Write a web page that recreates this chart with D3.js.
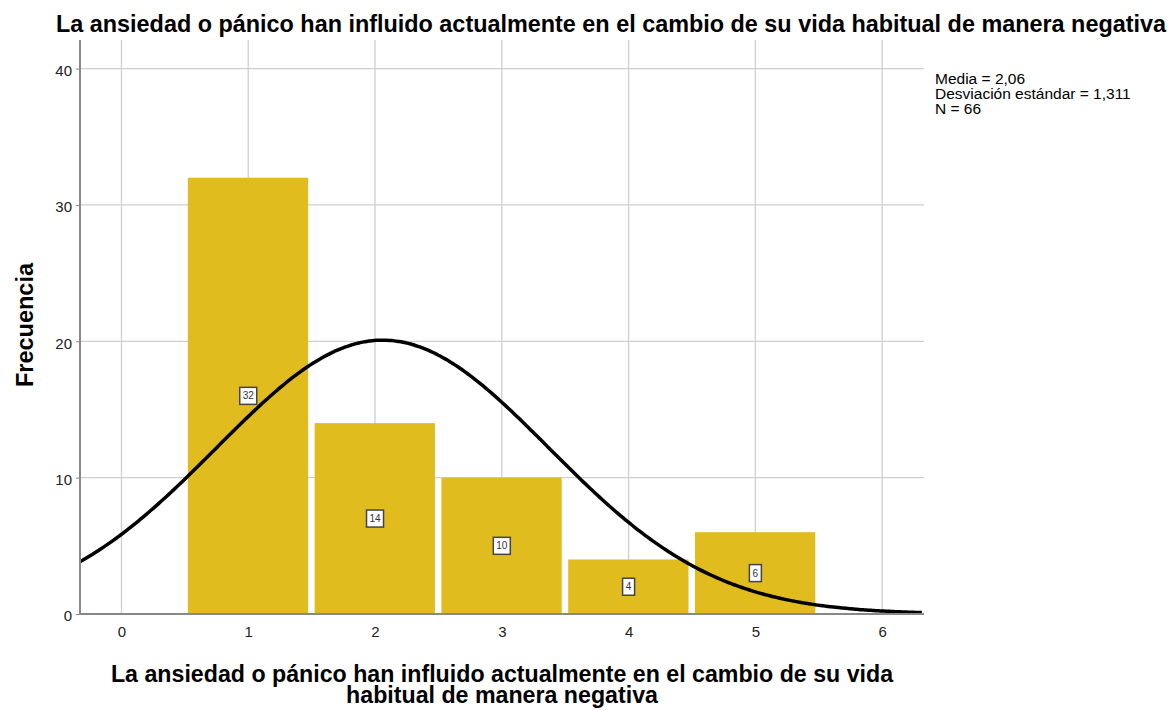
<!DOCTYPE html>
<html>
<head>
<meta charset="utf-8">
<script src="https://cdn.jsdelivr.net/npm/d3@7"></script>
<style>
  body { margin: 0; background: #fff; }
  text { font-family: 'Liberation Sans', Arial, sans-serif; }
</style>
</head>
<body>
<div id="chart"></div>
<script>
var categories = [1, 2, 3, 4, 5]
var counts = [32, 14, 10, 4, 6]
var xTicks = [0, 1, 2, 3, 4, 5, 6]
var yTicks = [0, 10, 20, 30, 40]
var mean = 2.06
var sd = 1.311
var n = 66
var statLines = ['Media = 2,06', 'Desviación estándar = 1,311', 'N = 66']
var title = 'La ansiedad o pánico han influido actualmente en el cambio de su vida habitual de manera negativa'
var xTitle = ['La ansiedad o pánico han influido actualmente en el cambio de su vida', 'habitual de manera negativa']

var width = 1171
var height = 710
var margin = { top: 40, left: 80, right: 247, bottom: 96 }

var svg = d3
  .select('#chart')
  .append('svg')
  .attr('width', width)
  .attr('height', height)

var xScale = d3
  .scaleLinear()
  .domain([-0.327, 6.33])
  .range([margin.left, width - margin.right])

var yScale = d3
  .scaleLinear()
  .domain([0, 42.1])
  .range([height - margin.bottom, margin.top])

var plotBottom = yScale(0)

// gridlines
svg
  .selectAll('.vgrid')
  .data(xTicks)
  .enter()
  .append('line')
  .attr('class', 'vgrid')
  .attr('x1', d => xScale(d))
  .attr('x2', d => xScale(d))
  .attr('y1', margin.top)
  .attr('y2', plotBottom)
  .attr('stroke', '#cfcfcf')
  .attr('stroke-width', 1.3)

svg
  .selectAll('.hgrid')
  .data(yTicks.slice(1))
  .enter()
  .append('line')
  .attr('class', 'hgrid')
  .attr('x1', margin.left)
  .attr('x2', width - margin.right)
  .attr('y1', d => yScale(d))
  .attr('y2', d => yScale(d))
  .attr('stroke', '#cfcfcf')
  .attr('stroke-width', 1.3)

// bars
var bars = categories.map((c, i) => ({ cat: c, count: counts[i] }))

svg
  .selectAll('.bar')
  .data(bars)
  .enter()
  .append('rect')
  .attr('class', 'bar')
  .attr('x', d => xScale(d.cat - 0.5) + 3)
  .attr('width', d => xScale(d.cat + 0.5) - xScale(d.cat - 0.5) - 6.5)
  .attr('y', d => yScale(d.count))
  .attr('height', d => plotBottom - yScale(d.count))
  .attr('fill', '#e1bc1f')

// normal curve from the stats
var density = x => (n / (sd * Math.sqrt(2 * Math.PI))) * Math.exp(-0.5 * Math.pow((x - mean) / sd, 2))
var curvePts = d3.range(-0.327, 6.331, 0.02).map(x => [x, density(x)])

var line = d3
  .line()
  .x(d => xScale(d[0]))
  .y(d => yScale(d[1]))
  .curve(d3.curveBasis)

svg
  .append('path')
  .datum(curvePts)
  .attr('d', line)
  .attr('fill', 'none')
  .attr('stroke', '#000')
  .attr('stroke-width', 3.5)

// value labels
var labels = svg
  .selectAll('.vlabel')
  .data(bars)
  .enter()
  .append('g')
  .attr('class', 'vlabel')
  .attr('transform', d => 'translate(' + xScale(d.cat) + ',' + yScale(d.count / 2) + ')')

labels
  .append('rect')
  .attr('x', d => (d.count >= 10 ? -8.5 : -6))
  .attr('width', d => (d.count >= 10 ? 17 : 12))
  .attr('y', -8.5)
  .attr('height', 17)
  .attr('fill', '#fff')
  .attr('stroke', '#444')
  .attr('stroke-width', 1.5)

labels
  .append('text')
  .attr('text-anchor', 'middle')
  .attr('dy', 3.5)
  .attr('font-size', 10)
  .attr('fill', '#333')
  .text(d => d.count)

// axes
svg
  .append('g')
  .attr('transform', 'translate(' + margin.left + ',0)')
  .call(d3.axisLeft(yScale).tickValues(yTicks).tickFormat(d3.format('d')).tickSize(4).tickPadding(4))
  .call(g => g.select('.domain').remove())
  .call(g => g.selectAll('.tick line').attr('stroke', '#888'))
  .call(g => g.selectAll('.tick text').attr('font-size', 15).attr('dy', '0.45em').attr('fill', '#222').attr('font-family', "'Liberation Sans', Arial, sans-serif"))

svg
  .append('g')
  .attr('transform', 'translate(0,' + plotBottom + ')')
  .call(d3.axisBottom(xScale).tickValues(xTicks).tickFormat(d3.format('d')).tickSize(0).tickPadding(12))
  .call(g => g.select('.domain').remove())
  .call(g => g.selectAll('.tick text').attr('font-size', 15).attr('fill', '#222').attr('font-family', "'Liberation Sans', Arial, sans-serif"))

svg
  .append('line')
  .attr('x1', margin.left)
  .attr('x2', margin.left)
  .attr('y1', margin.top)
  .attr('y2', plotBottom)
  .attr('stroke', '#888')
  .attr('stroke-width', 2)

svg
  .append('line')
  .attr('x1', margin.left)
  .attr('x2', width - margin.right)
  .attr('y1', plotBottom)
  .attr('y2', plotBottom)
  .attr('stroke', '#888')
  .attr('stroke-width', 2)

// titles
svg
  .append('text')
  .attr('x', 611)
  .attr('y', 32)
  .attr('text-anchor', 'middle')
  .attr('font-size', 23.4)
  .attr('font-weight', 700)
  .attr('fill', '#000')
  .text(title)

svg
  .selectAll('.xtitle')
  .data(xTitle)
  .enter()
  .append('text')
  .attr('class', 'xtitle')
  .attr('x', (margin.left + width - margin.right) / 2)
  .attr('y', (d, i) => 682 + i * 21)
  .attr('text-anchor', 'middle')
  .attr('font-size', 23.2)
  .attr('font-weight', 700)
  .attr('fill', '#000')
  .text(d => d)

svg
  .append('text')
  .attr('transform', 'translate(33,' + 325 + ') rotate(-90)')
  .attr('text-anchor', 'middle')
  .attr('font-size', 23.5)
  .attr('font-weight', 700)
  .attr('fill', '#000')
  .text('Frecuencia')

// stats
svg
  .selectAll('.stat')
  .data(statLines)
  .enter()
  .append('text')
  .attr('class', 'stat')
  .attr('x', 935)
  .attr('y', (d, i) => 84 + i * 15)
  .attr('font-size', 15.5)
  .attr('fill', '#000')
  .text(d => d)
</script>
</body>
</html>
